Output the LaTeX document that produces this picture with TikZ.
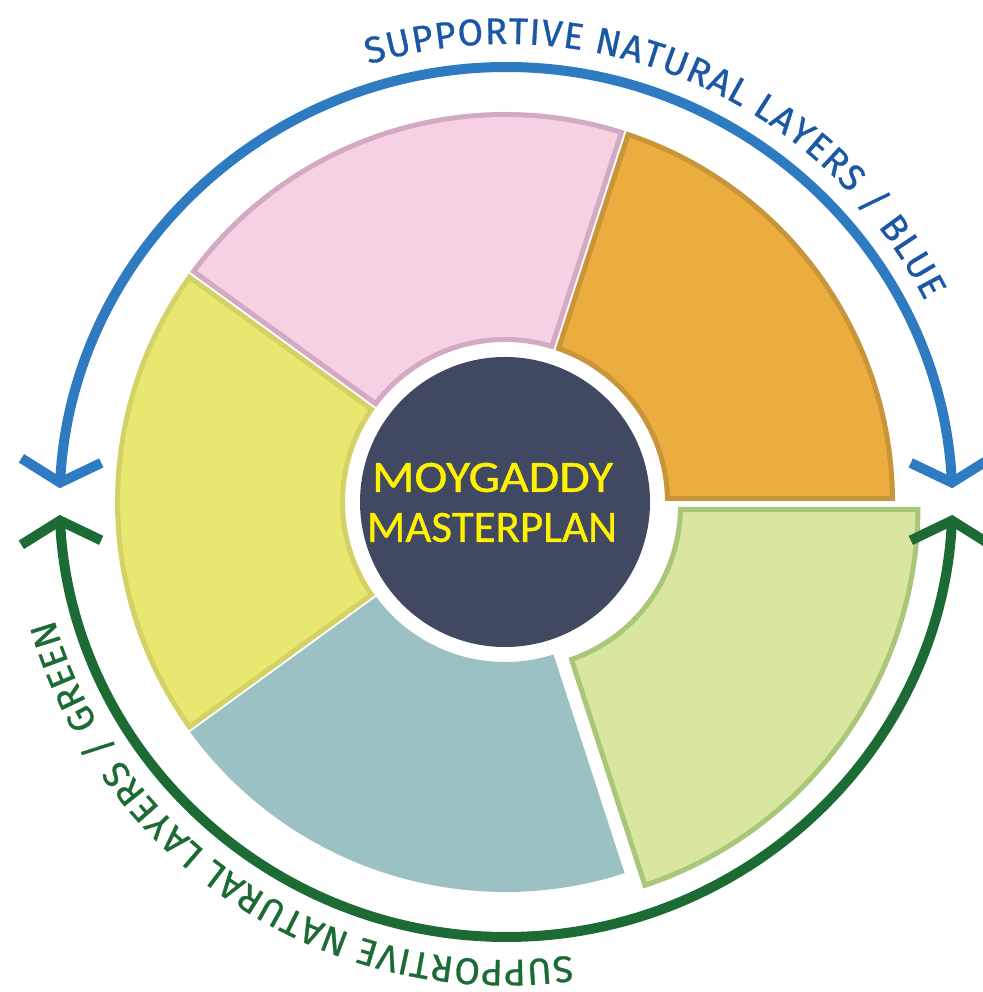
\documentclass[tikz,border=0pt]{standalone}
\usepackage{fontspec}
\setmainfont{Carlito}
\newfontfamily\arcfamily[FakeBold=0.8]{Fira Sans}
\newfontfamily\titlefamily[FakeBold=0.8]{Carlito}
\usetikzlibrary{arrows.meta,decorations.text}
\definecolor{hubcol}{HTML}{414862}
\definecolor{titlecol}{HTML}{FFF200}
\definecolor{orangefill}{HTML}{EBAE3E}
\definecolor{orangeline}{HTML}{C8953A}
\definecolor{pinkfill}{HTML}{F6D1E3}
\definecolor{pinkline}{HTML}{D4A9C3}
\definecolor{yellowfill}{HTML}{E8E870}
\definecolor{yellowline}{HTML}{D4D266}
\definecolor{tealfill}{HTML}{9BC1C5}
\definecolor{limefill}{HTML}{D8E6A0}
\definecolor{limeline}{HTML}{A9C778}
\definecolor{arcblue}{HTML}{2F7BC2}
\definecolor{txtblue}{HTML}{1A58A5}
\definecolor{arcgreen}{HTML}{1D6B34}
\newcommand{\arctxtfont}{\arcfamily\fontsize{37}{40}\selectfont}
\newcommand{\drawsector}[6]{%
  \pgfmathsetmacro\secAI{#2+asin(3.5/#4)}%
  \pgfmathsetmacro\secAO{#2+asin(3.5/#5)}%
  \pgfmathsetmacro\secBI{#3-asin(3.5/#4)}%
  \pgfmathsetmacro\secBO{#3-asin(3.5/#5)}%
  \path[#6, shift={(#1)}] (\secAI:#4pt) -- (\secAO:#5pt)
    arc[start angle=\secAO, end angle=\secBO, radius=#5pt]
    -- (\secBI:#4pt)
    arc[start angle=\secBI, end angle=\secAI, radius=#4pt] -- cycle;}
\tikzset{ringtip/.tip={Straight Barb[length=22pt,width=80pt]}}
\begin{document}
\begin{tikzpicture}[x=1pt,y=1pt,
  sector/.style 2 args={fill=#1, draw=#2, line width=5pt, line join=miter},
  ringarc/.style={line width=10pt, draw=#1, ringtip-ringtip},
  title/.style={text=titlecol, inner sep=0pt, font=\titlefamily}]
\useasboundingbox (0,0) rectangle (982,992);
\coordinate (C) at (505,490);
\coordinate (G) at (518,486);
\coordinate (B) at (506,478);
\coordinate (A) at (506,502);
% segments
\drawsector{C}{0}{72}{162.5}{387.5}{sector={orangefill}{orangeline}}
\drawsector{C}{72}{144}{162.5}{387.5}{sector={pinkfill}{pinkline}}
\drawsector{C}{144}{216}{162.5}{387.5}{sector={yellowfill}{yellowline}}
\drawsector{C}{216}{288}{162.5}{387.5}{sector={tealfill}{tealfill}}
\drawsector{G}{288}{360}{162.5}{400}{sector={limefill}{limeline}}
% hub
\node[circle, fill=hubcol, minimum size=290pt, inner sep=0pt] (hub) at (C) {};
\node[title] (title1) at (492.5,514.5) {\resizebox{241pt}{29pt}{MOYGADDY}};
\node[title] (title2) at (492,464.5) {\resizebox{250pt}{29pt}{MASTERPLAN}};
% ring arcs
\draw[ringarc=arcblue, shift={(B)}] (3.3:447pt) arc[start angle=3.3, end angle=176.7, radius=447pt];
\draw[ringarc=arcgreen, shift={(A)}] (-3.2:447pt) arc[start angle=-3.2, end angle=-176.8, radius=447pt];
% arc texts
\path[shift={(B)}, decorate, decoration={text along path,
  text={|\arctxtfont|SUPPORTIVE NATURAL LAYERS / BLUE},
  text color=txtblue, text align={fit to path}}]
  (107:470pt) arc[start angle=107, end angle=27, radius=470pt];
\path[shift={(A)}, decorate, decoration={text along path,
  text={|\arctxtfont|SUPPORTIVE NATURAL LAYERS / GREEN},
  text color=arcgreen, text align={fit to path}}]
  (-82:470pt) arc[start angle=-82, end angle=-164, radius=470pt];
\end{tikzpicture}
\end{document}
